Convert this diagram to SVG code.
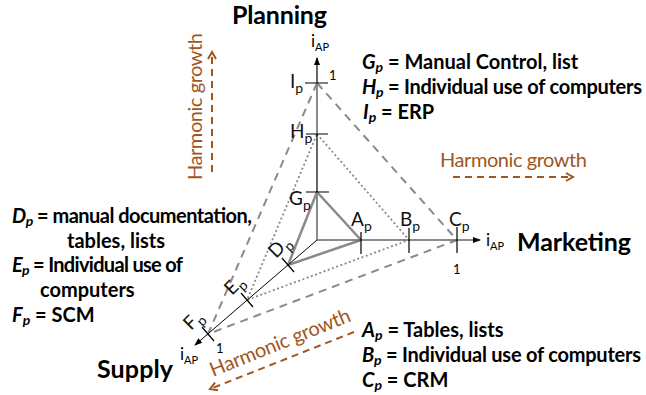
<svg xmlns="http://www.w3.org/2000/svg" width="646" height="395" viewBox="0 0 646 395">
<defs>
<marker id="ax" viewBox="0 0 8 8" refX="7" refY="4" markerWidth="8" markerHeight="8" markerUnits="userSpaceOnUse" orient="auto"><path d="M0,1 L8,4 L0,7 z" fill="#000"/></marker>
<marker id="hg" viewBox="0 0 10 10" refX="8" refY="5" markerWidth="10" markerHeight="10" markerUnits="userSpaceOnUse" orient="auto"><path d="M1,1 L8,5 L1,9" fill="none" stroke="#A0561E" stroke-width="2"/></marker>
<style>
text{font-family:Lato,"Liberation Sans",sans-serif;fill:#000}
.title{font-size:25px;font-weight:bold}
.leg{font-size:20px;font-weight:bold}
.it{font-style:italic}
.sub{font-size:14px;font-style:italic}
.lab{font-size:19px;fill:#111}
.lsub{font-size:14px}
.ia{font-size:17px}
.iasub{font-size:11px}
.one{font-size:13px}
.hgt{font-size:20px;fill:#A0561E}
.hga{fill:none;stroke:#A0561E;stroke-width:2;stroke-dasharray:7 5;marker-end:url(#hg)}
.tick{stroke:#000;stroke-width:1.2;fill:none}
.dash{stroke:#8a8a8a;stroke-width:2;stroke-dasharray:8 6;fill:none}
.dot{stroke:#8a8a8a;stroke-width:1.8;stroke-dasharray:2 2.5;fill:none}
.solid{stroke:#8a8a8a;stroke-width:2.5;fill:none;stroke-linejoin:round}
</style>
</defs>
<g id="connectors">
<polygon class="dash" points="317,83 457,240 208,334"/>
<polygon class="dot" points="317,134 409,240 247,300"/>
<polygon class="solid" points="317,192 361,240 288,265"/>
<line x1="317" y1="240" x2="317" y2="58" stroke="#000" stroke-width="1.2" marker-end="url(#ax)"/>
<line x1="317" y1="240" x2="317" y2="192" stroke="#8a8a8a" stroke-width="2"/>
<line x1="317" y1="134" x2="317" y2="83" stroke="#8a8a8a" stroke-width="2"/>
<line x1="317" y1="240" x2="480" y2="240" stroke="#666" stroke-width="1.5" marker-end="url(#ax)"/>
<line x1="317" y1="240" x2="195" y2="345" stroke="#000" stroke-width="1" marker-end="url(#ax)"/>
<path class="tick" d="M305,83H328 M306,134H328 M306,192H329 M361,232V254 M409,228V253 M457,227V253 M282,258L294,272 M241,293L253,307 M202,327L214,341"/>
</g>
<g id="axis-planning">
<text class="title" x="232" y="24" textLength="95">Planning</text>
<text x="311" y="47"><tspan class="ia">i</tspan><tspan class="iasub" dy="4">AP</tspan></text>
<text class="one" x="329" y="80">1</text>
</g>
<g id="axis-marketing">
<text class="title" x="517" y="251" textLength="114">Marketing</text>
<text x="486" y="246"><tspan class="ia">i</tspan><tspan class="iasub" dy="4">AP</tspan></text>
<text class="one" x="453" y="274">1</text>
</g>
<g id="axis-supply">
<text class="title" x="97" y="378" textLength="76">Supply</text>
<text x="180" y="360"><tspan class="ia">i</tspan><tspan class="iasub" dy="4">AP</tspan></text>
<text class="one" x="216" y="353">1</text>
</g>
<g id="node-Ip"><text class="lab" x="290" y="88">I<tspan class="lsub" dy="5">p</tspan></text></g>
<g id="node-Hp"><text class="lab" x="290" y="138">H<tspan class="lsub" dy="5">p</tspan></text></g>
<g id="node-Gp"><text class="lab" x="289" y="205">G<tspan class="lsub" dy="5">p</tspan></text></g>
<g id="node-Ap"><text class="lab" x="351" y="226">A<tspan class="lsub" dy="5">p</tspan></text></g>
<g id="node-Bp"><text class="lab" x="400" y="226">B<tspan class="lsub" dy="5">p</tspan></text></g>
<g id="node-Cp"><text class="lab" x="449" y="226">C<tspan class="lsub" dy="5">p</tspan></text></g>
<g id="node-Dp"><text class="lab" transform="translate(276,259) rotate(-45)">D<tspan class="lsub" dy="5">p</tspan></text></g>
<g id="node-Ep"><text class="lab" transform="translate(232,296) rotate(-45)">E<tspan class="lsub" dy="5">p</tspan></text></g>
<g id="node-Fp"><text class="lab" transform="translate(191,331) rotate(-45)">F<tspan class="lsub" dy="5">p</tspan></text></g>
<g id="growth-planning">
<text class="hgt" transform="translate(202,180) rotate(-90)" textLength="147">Harmonic growth</text>
<line class="hga" x1="212" y1="172" x2="212" y2="52"/>
</g>
<g id="growth-marketing">
<text class="hgt" x="440" y="167" textLength="147">Harmonic growth</text>
<line class="hga" x1="453" y1="177" x2="573" y2="177"/>
</g>
<g id="growth-supply">
<text class="hgt" transform="translate(213,377) rotate(-22)" textLength="150">Harmonic growth</text>
<line class="hga" x1="354" y1="332" x2="210" y2="389"/>
</g>
<g id="legend-planning">
<text class="leg" x="362" y="69"><tspan class="it">G</tspan><tspan class="sub" dy="3">p</tspan><tspan dy="-3"> = Manual Control, list</tspan></text>
<text class="leg" x="362" y="94" textLength="280"><tspan class="it">H</tspan><tspan class="sub" dy="3">p</tspan><tspan dy="-3"> = Individual use of computers</tspan></text>
<text class="leg" x="363" y="119"><tspan class="it">I</tspan><tspan class="sub" dy="3">p</tspan><tspan dy="-3"> = ERP</tspan></text>
</g>
<g id="legend-supply">
<text class="leg" x="12" y="223" textLength="240"><tspan class="it">D</tspan><tspan class="sub" dy="3">p</tspan><tspan dy="-3"> = manual documentation,</tspan></text>
<text class="leg" x="67" y="248">tables, lists</text>
<text class="leg" x="12" y="272" textLength="171"><tspan class="it">E</tspan><tspan class="sub" dy="3">p</tspan><tspan dy="-3"> = Individual use of</tspan></text>
<text class="leg" x="40" y="297">computers</text>
<text class="leg" x="12" y="322"><tspan class="it">F</tspan><tspan class="sub" dy="3">p</tspan><tspan dy="-3"> = SCM</tspan></text>
</g>
<g id="legend-marketing">
<text class="leg" x="362" y="337"><tspan class="it">A</tspan><tspan class="sub" dy="3">p</tspan><tspan dy="-3"> = Tables, lists</tspan></text>
<text class="leg" x="362" y="362" textLength="279"><tspan class="it">B</tspan><tspan class="sub" dy="3">p</tspan><tspan dy="-3"> = Individual use of computers</tspan></text>
<text class="leg" x="362" y="387"><tspan class="it">C</tspan><tspan class="sub" dy="3">p</tspan><tspan dy="-3"> = CRM</tspan></text>
</g>
</svg>
